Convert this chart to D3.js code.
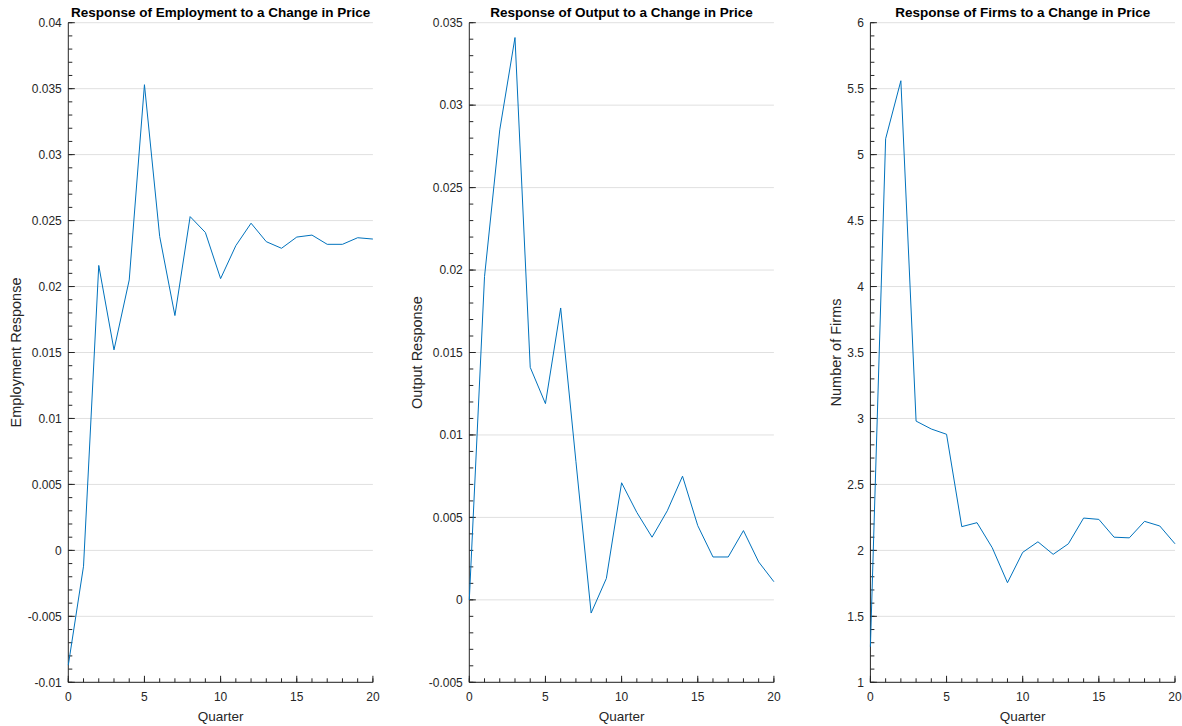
<!DOCTYPE html>
<html><head><meta charset="utf-8">
<script src="https://cdn.jsdelivr.net/npm/d3@7"></script>
<style>
html,body{margin:0;padding:0;background:#fff;}
svg text{font-family:"Liberation Sans",Arial,Helvetica,sans-serif;fill:#262626;}
</style></head>
<body>
<svg id="chart" width="1182" height="726"></svg>
<script>
// ---- data ----
const quarters = d3.range(0, 21);
const employment = [-0.0087, -0.0012, 0.0216, 0.0152, 0.0205, 0.0353, 0.0238, 0.0178, 0.0253, 0.0241, 0.0206,
  0.0231, 0.0248, 0.0234, 0.0229, 0.02375, 0.0239, 0.0232, 0.0232, 0.0237, 0.0236];
const output = [0.0000, 0.0196, 0.0285, 0.0341, 0.0141, 0.0119, 0.0177, 0.0084, -0.0008, 0.0013, 0.0071,
  0.0053, 0.0038, 0.0054, 0.0075, 0.0045, 0.0026, 0.0026, 0.0042, 0.0023, 0.0011];
const firms = [1.27, 5.12, 5.56, 2.98, 2.92, 2.88, 2.18, 2.21, 2.02, 1.755, 1.985,
  2.065, 1.97, 2.05, 2.245, 2.235, 2.10, 2.095, 2.22, 2.185, 2.05];

const xTicks = [0, 5, 10, 15, 20];
const xTickLabels = ["0", "5", "10", "15", "20"];

const empTicks = [-0.01, -0.005, 0, 0.005, 0.01, 0.015, 0.02, 0.025, 0.03, 0.035, 0.04];
const empTickLabels = ["-0.01", "-0.005", "0", "0.005", "0.01", "0.015", "0.02", "0.025", "0.03", "0.035", "0.04"];
const outTicks = [-0.005, 0, 0.005, 0.01, 0.015, 0.02, 0.025, 0.03, 0.035];
const outTickLabels = ["-0.005", "0", "0.005", "0.01", "0.015", "0.02", "0.025", "0.03", "0.035"];
const firmTicks = [1, 1.5, 2, 2.5, 3, 3.5, 4, 4.5, 5, 5.5, 6];
const firmTickLabels = ["1", "1.5", "2", "2.5", "3", "3.5", "4", "4.5", "5", "5.5", "6"];

const titles = ["Response of Employment to a Change in Price", "Response of Output to a Change in Price", "Response of Firms to a Change in Price"];
const yLabels = ["Employment Response", "Output Response", "Number of Firms"];
const xLabel = "Quarter";

// ---- layout ----
const svg = d3.select("#chart");
const lefts = [68.3, 469.3, 870.4];
const W = 304.6, TOP = 22.7, BOT = 682.3;
const axisColor = "#262626", gridColor = "#e0e0e0", lineColor = "#0072BD";

const panels = [
  {vals: employment, ticks: empTicks, labels: empTickLabels, dom: [-0.01, 0.04], minor: 0.001},
  {vals: output, ticks: outTicks, labels: outTickLabels, dom: [-0.005, 0.035], minor: 0.001},
  {vals: firms, ticks: firmTicks, labels: firmTickLabels, dom: [1, 6], minor: 0.1}
];

panels.forEach((p, i) => {
  const L = lefts[i];
  const x = d3.scaleLinear().domain([0, 20]).range([L, L + W]);
  const y = d3.scaleLinear().domain(p.dom).range([BOT, TOP]);
  const g = svg.append("g");

  // gridlines
  g.selectAll(".grid").data(p.ticks).enter().append("line")
    .attr("x1", L).attr("x2", L + W)
    .attr("y1", d => y(d)).attr("y2", d => y(d))
    .attr("stroke", gridColor).attr("stroke-width", 1);

  // minor y ticks
  const nMinor = Math.round((p.dom[1] - p.dom[0]) / p.minor);
  const minorY = d3.range(0, nMinor + 1).map(k => p.dom[0] + k * p.minor);
  g.selectAll(".ym").data(minorY).enter().append("line")
    .attr("x1", L).attr("x2", L + 4)
    .attr("y1", d => y(d)).attr("y2", d => y(d))
    .attr("stroke", axisColor).attr("stroke-width", 1);
  // major y ticks
  g.selectAll(".yM").data(p.ticks).enter().append("line")
    .attr("x1", L).attr("x2", L + 6.5)
    .attr("y1", d => y(d)).attr("y2", d => y(d))
    .attr("stroke", axisColor).attr("stroke-width", 1);
  // minor x ticks
  g.selectAll(".xm").data(quarters).enter().append("line")
    .attr("x1", d => x(d)).attr("x2", d => x(d))
    .attr("y1", BOT).attr("y2", BOT - 4)
    .attr("stroke", axisColor).attr("stroke-width", 1);
  g.selectAll(".xM").data(xTicks).enter().append("line")
    .attr("x1", d => x(d)).attr("x2", d => x(d))
    .attr("y1", BOT).attr("y2", BOT - 6.5)
    .attr("stroke", axisColor).attr("stroke-width", 1);

  // axis lines
  g.append("line").attr("x1", L).attr("x2", L).attr("y1", TOP).attr("y2", BOT)
    .attr("stroke", axisColor).attr("stroke-width", 1);
  g.append("line").attr("x1", L).attr("x2", L + W).attr("y1", BOT).attr("y2", BOT)
    .attr("stroke", axisColor).attr("stroke-width", 1);

  // y tick labels
  const yl = g.selectAll(".ytl").data(p.ticks).enter().append("text")
    .attr("x", L - 6.5).attr("y", d => y(d) + 4.3)
    .attr("text-anchor", "end").attr("font-size", 12)
    .text((d, k) => p.labels[k]);
  let maxW = 0;
  yl.each(function () { maxW = Math.max(maxW, this.getComputedTextLength()); });

  // x tick labels
  g.selectAll(".xtl").data(xTicks).enter().append("text")
    .attr("x", d => x(d)).attr("y", BOT + 19)
    .attr("text-anchor", "middle").attr("font-size", 12)
    .text((d, k) => xTickLabels[k]);

  // data line
  const line = d3.line().x((d, k) => x(quarters[k])).y(d => y(d));
  g.append("path").datum(p.vals).attr("d", line)
    .attr("fill", "none").attr("stroke", lineColor).attr("stroke-width", 1)
    .attr("stroke-linejoin", "miter");

  // title
  g.append("text").attr("x", L + W / 2).attr("y", 16.5)
    .attr("text-anchor", "middle").attr("font-size", 13.5).attr("font-weight", "bold")
    .style("fill", "#000").text(titles[i]);

  // x label
  g.append("text").attr("x", L + W / 2).attr("y", 721)
    .attr("text-anchor", "middle").attr("font-size", 13.5).text(xLabel);

  // y label
  const cx = L - 6.5 - maxW - 6 - 5.5;
  const cy = (TOP + BOT) / 2;
  g.append("text").attr("transform", `translate(${cx},${cy}) rotate(-90)`)
    .attr("text-anchor", "middle").attr("dy", "0.35em").attr("font-size", 14.5)
    .text(yLabels[i]);
});
</script>
</body></html>
